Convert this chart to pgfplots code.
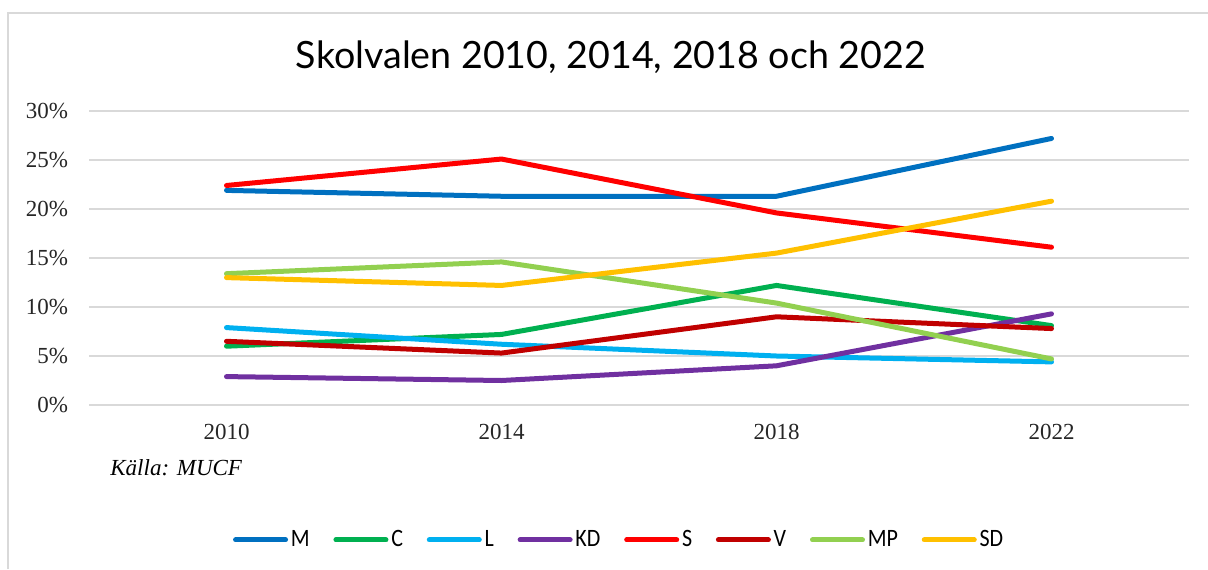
\documentclass[border=0pt]{standalone}
\usepackage{pgfplots}
\pgfplotsset{compat=1.18}
\usepackage{pgfplotstable}
\usepackage{fontspec}
\setmainfont{Liberation Serif}
\newfontfamily\titlefont{Lato}
\newfontfamily\legfont[FakeStretch=0.88]{Carlito}
\definecolor{cM}{HTML}{0070C0}
\definecolor{cC}{HTML}{00B050}
\definecolor{cL}{HTML}{00B0F0}
\definecolor{cKD}{HTML}{7030A0}
\definecolor{cS}{HTML}{FF0000}
\definecolor{cV}{HTML}{C00000}
\definecolor{cMP}{HTML}{92D050}
\definecolor{cSD}{HTML}{FFC000}
\definecolor{gridc}{RGB}{217,217,217}
\pgfplotstableread{
x M C L KD S V MP SD
0 21.9 6.0 7.9 2.9 22.4 6.5 13.4 13.0
1 21.3 7.2 6.2 2.5 25.1 5.3 14.6 12.2
2 21.3 12.2 5.0 4.0 19.6 9.0 10.4 15.5
3 27.2 8.1 4.4 9.3 16.1 7.8 4.7 20.8
}\data
\begin{document}
\begin{tikzpicture}
\path[use as bounding box] (0,0) rectangle (604pt,284.5pt);
\draw[gridc, line width=0.75pt] (4pt,0pt) -- (4pt,278pt) -- (604pt,278pt);
\node[anchor=base] at (305.5pt,250.5pt) {\titlefont\fontsize{18.8}{22}\selectfont Skolvalen 2010, 2014, 2018 och 2022};
\node[anchor=base west, inner sep=0pt] at (55pt,47pt) {\fontsize{11.5}{13}\selectfont\itshape Källa: MUCF};
\begin{axis}[
  at={(44.5pt,82pt)}, anchor=south west,
  scale only axis, width=550pt, height=147pt,
  xmin=-0.5, xmax=3.5, ymin=0, ymax=30,
  xtick={0,1,2,3}, xticklabels={2010,2014,2018,2022},
  ytick={0,5,10,15,20,25,30},
  yticklabel={\pgfmathprintnumber{\tick}\%},
  /pgf/number format/assume math mode=true,
  ticklabel style={font=\fontsize{11.5}{13}\selectfont, text=black!85},
  yticklabel style={xshift=-7pt},
  xticklabel style={yshift=-6pt},
  axis line style={draw=none},
  major tick style={draw=none},
  ymajorgrids, grid style={gridc, line width=0.75pt},
  every axis plot/.append style={line width=2.5pt, line join=round, line cap=round},
  legend columns=-1,
  legend style={draw=none, fill=none, at={(axis description cs:0.4823,-0.459)}, anchor=center,
    font=\legfont\fontsize{12.5}{14}\selectfont,
    /tikz/every even column/.append style={column sep=10.5pt},
    nodes={inner sep=1.4pt}},
  legend image code/.code={\draw[#1, line cap=round] (1.25pt,0pt) -- (26.25pt,0pt);},
]
\addplot[cM] table[x=x,y=M] {\data}; \addlegendentry{M}
\addplot[cC] table[x=x,y=C] {\data}; \addlegendentry{C}
\addplot[cL] table[x=x,y=L] {\data}; \addlegendentry{L}
\addplot[cKD] table[x=x,y=KD] {\data}; \addlegendentry{KD}
\addplot[cS] table[x=x,y=S] {\data}; \addlegendentry{S}
\addplot[cV] table[x=x,y=V] {\data}; \addlegendentry{V}
\addplot[cMP] table[x=x,y=MP] {\data}; \addlegendentry{MP}
\addplot[cSD] table[x=x,y=SD] {\data}; \addlegendentry{SD}
\end{axis}
\end{tikzpicture}
\end{document}
